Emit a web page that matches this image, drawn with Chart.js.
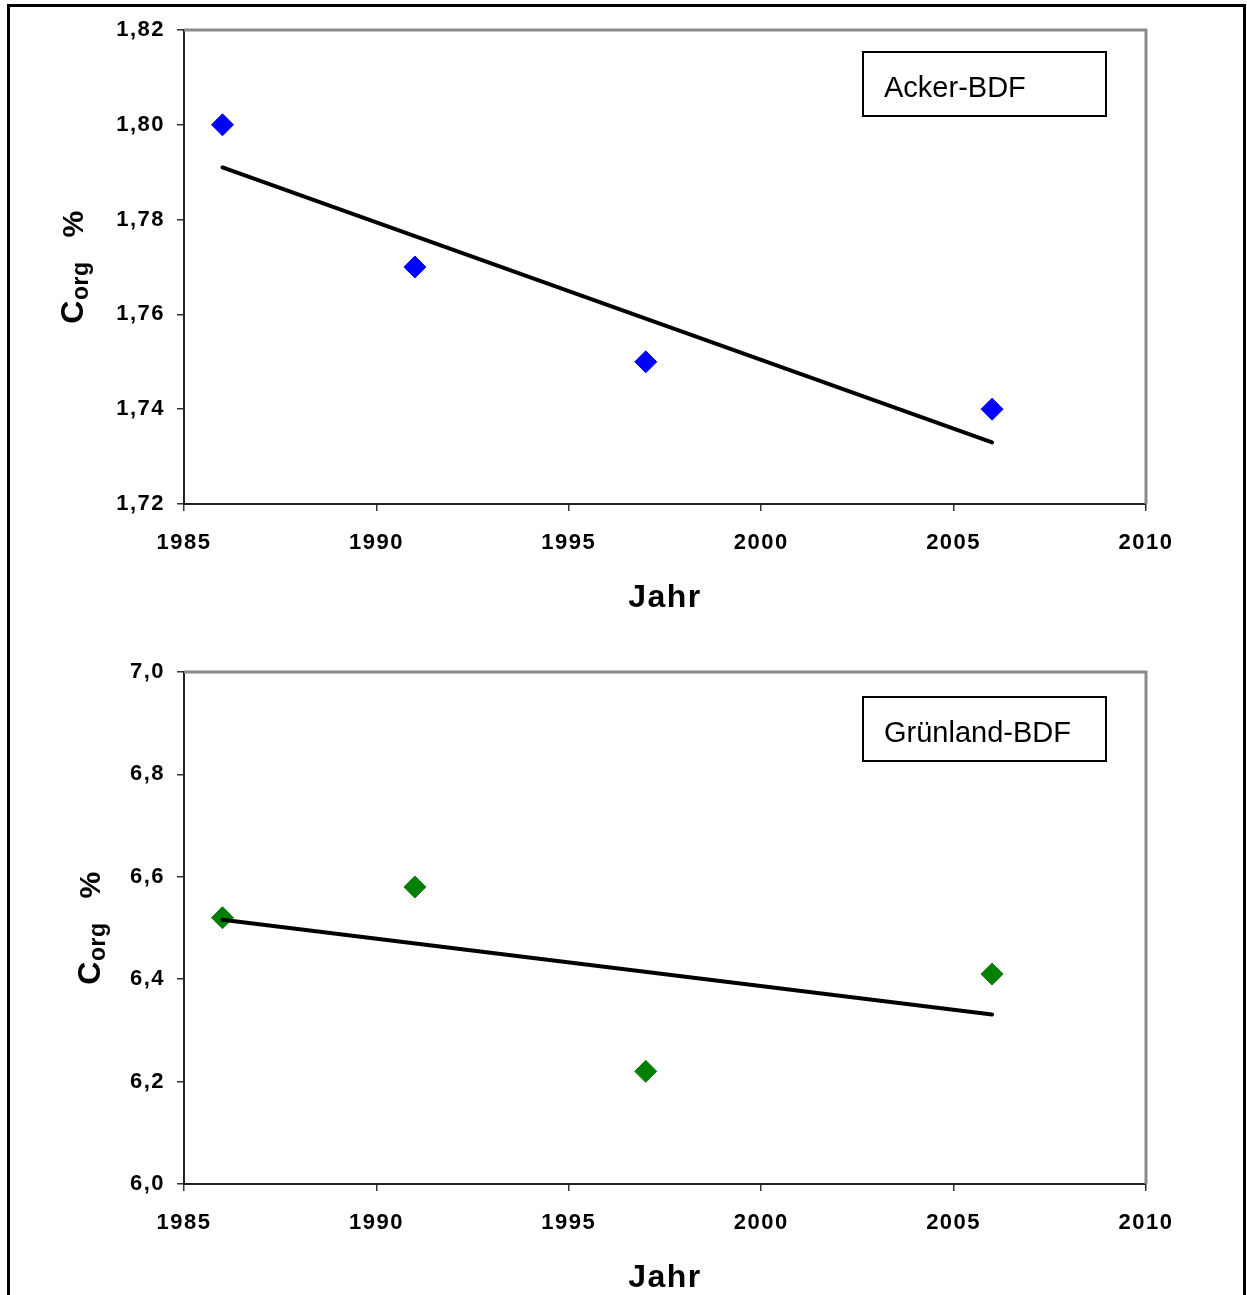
<!DOCTYPE html>
<html>
<head>
<meta charset="utf-8">
<script src="https://cdn.jsdelivr.net/npm/chart.js@4.4.0/dist/chart.umd.min.js"></script>
<style>
html, body { margin: 0; padding: 0; background: #fff; width: 1247px; height: 1295px; overflow: hidden; position: relative; }
#frame { position: absolute; left: 7px; top: 4px; width: 1233px; height: 1400px; border: 3px solid #000; }
.box { position: absolute; left: 0; width: 1247px; }
#box1 { top: 0; height: 640px; }
#box2 { top: 640px; height: 680px; }
</style>
</head>
<body>
<div id="frame"></div>
<div class="box" id="box1"><canvas id="chart1" width="1247" height="640"></canvas></div>
<div class="box" id="box2"><canvas id="chart2" width="1247" height="680"></canvas></div>
<script>
// Messjahre und Corg-Werte
const years = [1986, 1991, 1997, 2006];
const ackerCorg = [1.80, 1.77, 1.75, 1.74];
const gruenlandCorg = [6.52, 6.58, 6.22, 6.41];

// Trendlinie (Anfang / Ende)
const trendYears = [1986, 2006];
const ackerTrend = [1.791, 1.733];
const gruenlandTrend = [6.516, 6.331];

// Achsenbeschriftung
const xTicks = [1985, 1990, 1995, 2000, 2005, 2010];
const ackerTicks = [1.72, 1.74, 1.76, 1.78, 1.80, 1.82];
const gruenlandTicks = [6.0, 6.2, 6.4, 6.6, 6.8, 7.0];

const fontFamily = '"Liberation Sans", Arial, sans-serif';
Chart.defaults.font.family = fontFamily;
Chart.defaults.color = '#000';

// Rahmen oben/rechts, Beschriftungsbox und y-Titel mit Index
const decorPlugin = {
    id: 'decor',
    beforeDraw(chart) {
        chart.ctx.letterSpacing = '1.5px';
    },
    afterDraw(chart, args, opts) {
        const ctx = chart.ctx;
        const a = chart.chartArea;
        ctx.save();
        ctx.letterSpacing = '0px';

        // grauer Rahmen
        ctx.strokeStyle = '#8a8a8a';
        ctx.lineWidth = 3;
        ctx.beginPath();
        ctx.moveTo(a.left, a.top);
        ctx.lineTo(a.right, a.top);
        ctx.lineTo(a.right, a.bottom);
        ctx.stroke();

        // Box mit Standort
        const b = opts.box;
        ctx.fillStyle = '#fff';
        ctx.fillRect(b.x, b.y, b.w, b.h);
        ctx.strokeStyle = '#000';
        ctx.lineWidth = 2;
        ctx.strokeRect(b.x, b.y, b.w, b.h);
        ctx.fillStyle = '#000';
        ctx.font = '29px ' + fontFamily;
        ctx.textBaseline = 'alphabetic';
        ctx.textAlign = 'left';
        ctx.fillText(opts.label, b.x + 21, b.y + 45);

        // y-Titel: C_org %
        ctx.translate(opts.titleX, (a.top + a.bottom) / 2);
        ctx.rotate(-Math.PI / 2);
        ctx.letterSpacing = '0.5px';
        const fC = 'bold 32px ' + fontFamily;
        const fSub = 'bold 23px ' + fontFamily;
        const fP = 'bold 30px ' + fontFamily;
        const gap = 24;
        ctx.font = fC; const wC = ctx.measureText('C').width;
        ctx.font = fSub; const wSub = ctx.measureText('org').width;
        ctx.font = fP; const wP = ctx.measureText('%').width;
        const start = -(wC + wSub + gap + wP) / 2;
        ctx.font = fC; ctx.fillText('C', start, 0);
        ctx.font = fSub; ctx.fillText('org', start + wC, 5);
        ctx.font = fP; ctx.fillText('%', start + wC + wSub + gap, 0);
        ctx.restore();
    }
};

function makeChart(canvasId, cfg) {
    const tickFont = { family: fontFamily, size: 22, weight: 'bold' };
    return new Chart(document.getElementById(canvasId), {
        type: 'scatter',
        data: {
            datasets: [
                {
                    label: 'Trend',
                    type: 'line',
                    data: trendYears.map((x, i) => ({ x: x, y: cfg.trend[i] })),
                    borderColor: '#000',
                    borderWidth: 4,
                    borderCapStyle: 'round',
                    pointRadius: 0,
                    fill: false
                },
                {
                    label: cfg.label,
                    data: years.map((x, i) => ({ x: x, y: cfg.values[i] })),
                    pointStyle: 'rectRot',
                    pointRadius: 11,
                    backgroundColor: cfg.color,
                    borderColor: cfg.color,
                    borderWidth: 1
                }
            ]
        },
        options: {
            responsive: false,
            animation: false,
            devicePixelRatio: 1,
            layout: { padding: { top: cfg.top, right: 101, left: 0, bottom: 0 } },
            plugins: {
                legend: { display: false },
                tooltip: { enabled: false },
                decor: { box: cfg.box, label: cfg.label, titleX: cfg.titleX }
            },
            scales: {
                x: {
                    type: 'linear',
                    min: 1985,
                    max: 2010,
                    afterBuildTicks: s => { s.ticks = xTicks.map(v => ({ value: v })); },
                    afterFit: s => { s.height = 136; s.paddingLeft = 0; s.paddingRight = 0; },
                    ticks: {
                        callback: v => String(v),
                        color: '#000',
                        font: tickFont,
                        padding: 19,
                        maxRotation: 0,
                        autoSkip: false
                    },
                    grid: { drawOnChartArea: false, drawTicks: true, tickLength: 7, color: '#333', lineWidth: 1.5 },
                    border: { color: '#222', width: 2 },
                    title: {
                        display: true,
                        text: 'Jahr',
                        color: '#000',
                        font: { family: fontFamily, size: 32, weight: 'bold' },
                        padding: { top: 0, bottom: 23 }
                    }
                },
                y: {
                    min: cfg.ticks[0],
                    max: cfg.ticks[cfg.ticks.length - 1],
                    afterBuildTicks: s => { s.ticks = cfg.ticks.map(v => ({ value: v })); },
                    afterFit: s => { s.width = 184; s.paddingTop = 0; s.paddingBottom = 0; },
                    ticks: {
                        callback: v => v.toFixed(cfg.decimals).replace('.', ','),
                        color: '#000',
                        font: tickFont,
                        padding: 12,
                        autoSkip: false
                    },
                    grid: { drawOnChartArea: false, drawTicks: true, tickLength: 7, color: '#333', lineWidth: 1.5 },
                    border: { color: '#222', width: 2 }
                }
            }
        },
        plugins: [decorPlugin]
    });
}

makeChart('chart1', {
    label: 'Acker-BDF',
    values: ackerCorg,
    trend: ackerTrend,
    ticks: ackerTicks,
    decimals: 2,
    color: '#0000ff',
    top: 30,
    titleX: 83,
    box: { x: 863, y: 52, w: 243, h: 64 }
});

makeChart('chart2', {
    label: 'Grünland-BDF',
    values: gruenlandCorg,
    trend: gruenlandTrend,
    ticks: gruenlandTicks,
    decimals: 1,
    color: '#008000',
    top: 32,
    titleX: 100,
    box: { x: 863, y: 57, w: 243, h: 64 }
});
</script>
</body>
</html>
